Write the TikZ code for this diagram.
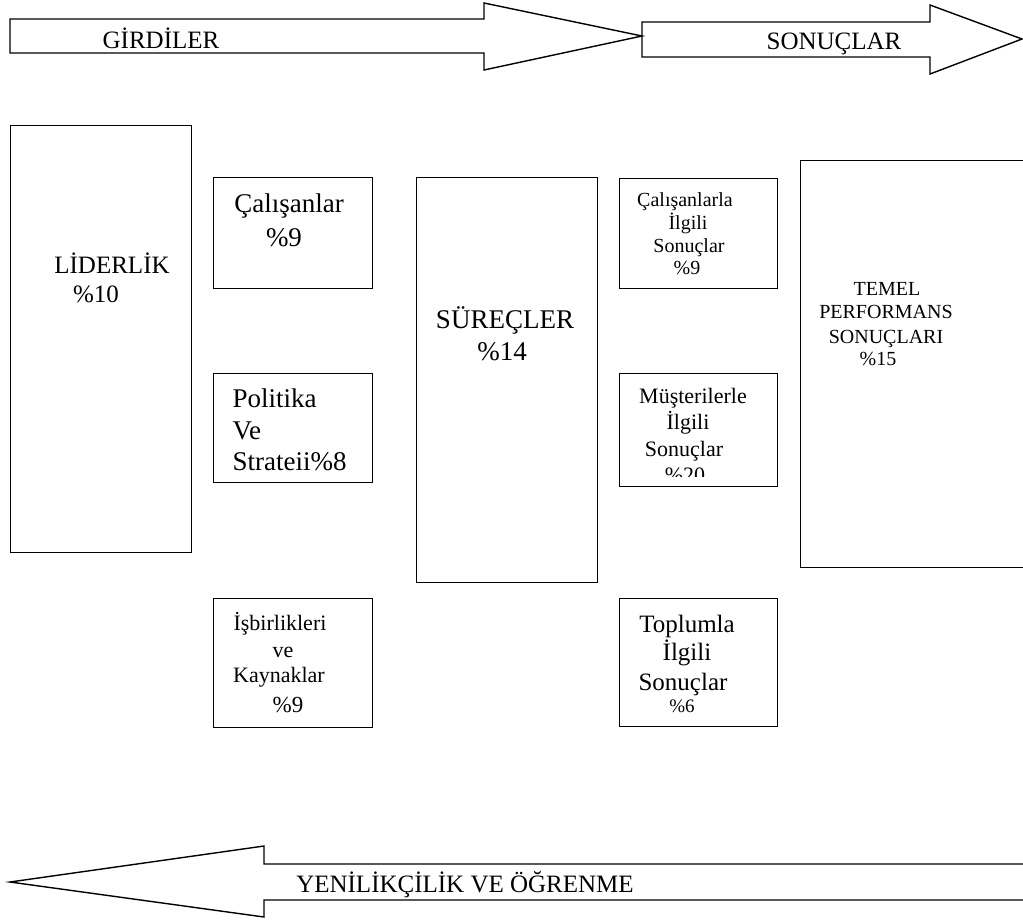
\documentclass[tikz,border=0pt]{standalone}
\usepackage{fontspec}
\setmainfont{Liberation Serif}
\begin{document}
\begin{tikzpicture}[x=1pt,y=-1pt,line width=1.4pt,line join=miter]
\tikzset{
  box/.style={draw,rectangle,inner sep=0pt,anchor=north west},
  lbl/.style={inner sep=0pt,anchor=base},
  lblw/.style={inner sep=0pt,anchor=base west},
  fs/.style={font=\fontsize{#1}{#1}\selectfont},
  flow/.style={draw,line width=1.4pt}
}
\useasboundingbox (0,0) rectangle (1023,922);
\clip (0,0) rectangle (1023,922);

% --- big flow arrows ---
\path[flow] (10,19) -- (484,19) -- (484,3) -- (642,36) -- (484,70) -- (484,53) -- (10,53) -- cycle;
\path[flow] (642,22) -- (930,22) -- (930,5) -- (1022,39) -- (930,74) -- (930,57) -- (642,57) -- cycle;
\path[flow] (1035,864) -- (264,864) -- (264,846) -- (10,882) -- (264,917) -- (264,900) -- (1035,900);

\node[lbl,fs=25] (girdi) at (161,48) {GİRDİLER};
\node[lbl,fs=25] (sonuc) at (834,49) {SONUÇLAR};
\node[lbl,fs=25] (yenilik) at (465,892) {YENİLİKÇİLİK VE ÖĞRENME};

% --- enablers ---
\node[box,minimum width=181pt,minimum height=427pt] (lider) at (10,125) {};
\node[lbl,fs=25] (lider1) at (112,273) {LİDERLİK};
\node[lbl,fs=25] (lider2) at (96,302) {\%10};

\node[box,minimum width=159pt,minimum height=111pt] (calisan) at (213,177) {};
\node[lbl,fs=27] (calisan1) at (289,212) {Çalışanlar};
\node[lbl,fs=27] (calisan2) at (284,246) {\%9};

\node[box,minimum width=159pt,minimum height=109pt] (politika) at (213,373) {};
\node[lblw,fs=27] (politika1) at (232,407) {Politika};
\node[lblw,fs=27] (politika2) at (232,439) {Ve};
\node[lblw,fs=27] (politika3) at (232,470) {Strateii\%8};

\node[box,minimum width=159pt,minimum height=129pt] (isbirlik) at (213,598) {};
\node[lbl,fs=22] (isbirlik1) at (280,630) {İşbirlikleri};
\node[lbl,fs=22] (isbirlik2) at (283,657) {ve};
\node[lbl,fs=22] (isbirlik3) at (279,682) {Kaynaklar};
\node[lbl,fs=23] (isbirlik4) at (288,712) {\%9};

\node[box,minimum width=181pt,minimum height=405pt] (surec) at (416,177) {};
\node[lbl,fs=27] (surec1) at (505,328) {SÜREÇLER};
\node[lbl,fs=27] (surec2) at (502,360) {\%14};

% --- results ---
\node[box,minimum width=158pt,minimum height=110pt] (calsonuc) at (619,178) {};
\node[lbl,fs=20] (calsonuc1) at (685,206) {Çalışanlarla};
\node[lbl,fs=20] (calsonuc2) at (688,229) {İlgili};
\node[lbl,fs=20] (calsonuc3) at (689,252) {Sonuçlar};
\node[lbl,fs=20] (calsonuc4) at (687,274) {\%9};

\node[box,minimum width=158pt,minimum height=113pt] (mussonuc) at (619,373) {};
\node[lbl,fs=22] (mussonuc1) at (693,403) {Müşterilerle};
\node[lbl,fs=22] (mussonuc2) at (688,429) {İlgili};
\node[lbl,fs=22] (mussonuc3) at (684,456) {Sonuçlar};
\begin{scope}
  \clip (619,373) rectangle (777,476);
  \node[lbl,fs=22] (mussonuc4) at (685,482) {\%20};
\end{scope}

\node[box,minimum width=158pt,minimum height=128pt] (topsonuc) at (619,598) {};
\node[lbl,fs=25] (topsonuc1) at (687,632) {Toplumla};
\node[lbl,fs=25] (topsonuc2) at (687,660) {İlgili};
\node[lbl,fs=25] (topsonuc3) at (683,690) {Sonuçlar};
\node[lbl,fs=19] (topsonuc4) at (682,712) {\%6};

\node[box,minimum width=260pt,minimum height=407pt] (temel) at (800,160) {};
\node[lbl,fs=20] (temel1) at (887,295) {TEMEL};
\node[lbl,fs=20] (temel2) at (886,318) {PERFORMANS};
\node[lbl,fs=20] (temel3) at (886,343) {SONUÇLARI};
\node[lbl,fs=20] (temel4) at (878,365) {\%15};
\end{tikzpicture}
\end{document}
